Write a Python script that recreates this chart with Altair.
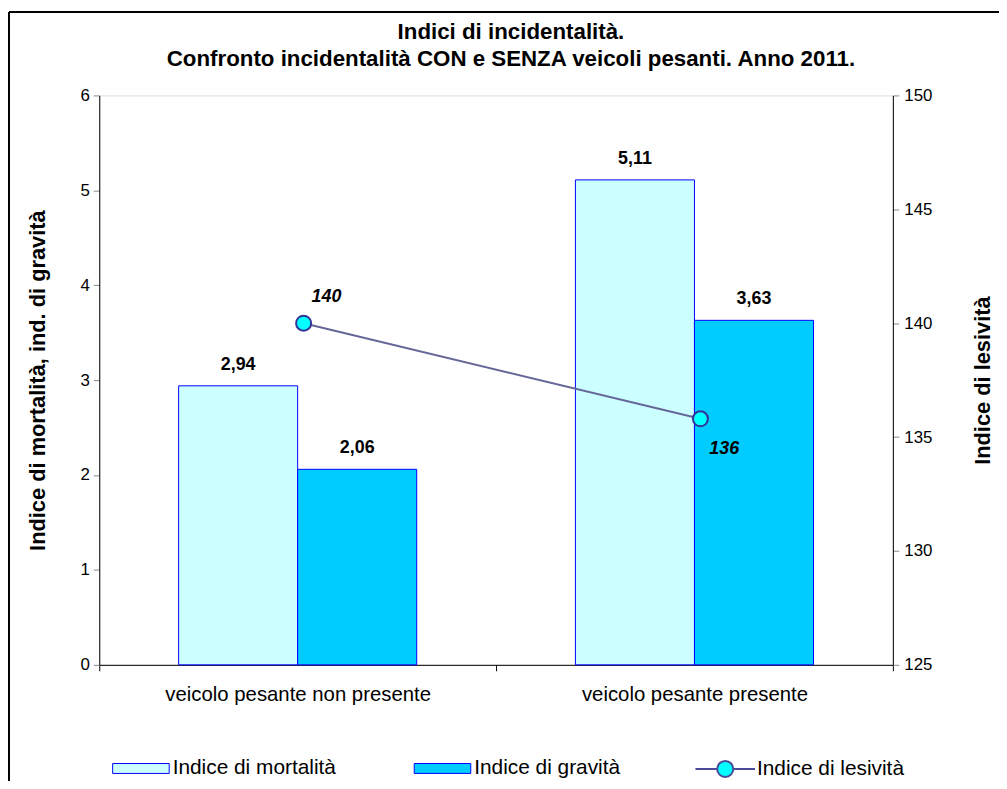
import altair as alt
import pandas as pd

title_lines = ["Indici di incidentalità.",
               "Confronto incidentalità CON e SENZA veicoli pesanti. Anno 2011."]
categories = ["veicolo pesante non presente", "veicolo pesante presente"]
series = ["Indice di mortalità", "Indice di gravità"]
mortalita = [2.94, 5.11]
gravita = [2.06, 3.63]
line_series = "Indice di lesività"
lesivita = [140.0, 135.8]
lesivita_labels = ["140", "136"]
label_pos = ["above", "below"]

FONT = "Liberation Sans"

rows = []
for i, c in enumerate(categories):
    for s, vals in zip(series, [mortalita, gravita]):
        rows.append({"cat": c, "serie": s, "val": vals[i],
                     "lab": f"{vals[i]:.2f}".replace(".", ",")})
bars_df = pd.DataFrame(rows)
line_df = pd.DataFrame({"cat": categories, "val": lesivita, "lab": lesivita_labels,
                        "serie": [line_series] * len(categories), "pos": label_pos})

x_enc = alt.X("cat:N", sort=categories,
              scale=alt.Scale(paddingInner=0, paddingOuter=0),
              axis=alt.Axis(title=None, tickBand="extent", labelFontSize=20.5, labelLimit=500,
                            labelPadding=14, labelAngle=0, domainColor="black", grid=False,
                            tickColor="black", tickSize=6))
xoff = alt.XOffset("serie:N", sort=series,
                   scale=alt.Scale(domain=series, paddingOuter=0.6667, paddingInner=0))
y_left = alt.Y("val:Q", scale=alt.Scale(domain=[0, 6], nice=False, zero=True),
               axis=alt.Axis(values=[0, 1, 2, 3, 4, 5, 6], title="Indice di mortalità, ind. di gravità",
                             titleFontSize=22, titleFontWeight="bold", titleAngle=270,
                             titleX=-62, titleY=287, titleAlign="center", titleBaseline="middle",
                             labelFontSize=17, labelPadding=4, tickSize=6, orient="left",
                             grid=False, domainColor="black"))
y_right = alt.Y("val:Q", scale=alt.Scale(domain=[125, 150], nice=False, zero=False),
                axis=alt.Axis(values=[125, 130, 135, 140, 145, 150], title="Indice di lesività",
                              titleFontSize=22, titleFontWeight="bold", titleAngle=270,
                              titleX=90, titleY=287, titleAlign="center", titleBaseline="middle",
                              labelFontSize=17, labelPadding=5, tickSize=6, orient="right",
                              grid=False, domainColor="black"))

rect_path = "M-1,-0.175L1,-0.175L1,0.175L-1,0.175Z"
bars = alt.Chart(bars_df).mark_bar(stroke="#0000FF", strokeWidth=1).encode(
    x=x_enc, xOffset=xoff, y=y_left,
    color=alt.Color("serie:N", sort=series,
                    scale=alt.Scale(domain=series, range=["#CCFFFF", "#00CCFF"]),
                    legend=alt.Legend(orient="none", legendX=13, legendY=649.5,
                                      direction="horizontal", title=None,
                                      symbolType=rect_path, symbolSize=3249,
                                      symbolStrokeColor="#0000FF", symbolStrokeWidth=1,
                                      symbolOpacity=1, labelLimit=400,
                                      labelFontSize=21, labelFont=FONT, labelColor="black",
                                      labelOffset=3, columnPadding=76, padding=0)))
bar_text = alt.Chart(bars_df).mark_text(fontSize=18, fontWeight="bold", font=FONT,
                                        baseline="alphabetic", dy=-16, color="black").encode(
    x=x_enc, xOffset=xoff, y=y_left, text="lab:N")
left = alt.layer(bars, bar_text)

PX = 6
line = alt.Chart(line_df).mark_line(color="#666699", strokeWidth=2, xOffset=PX).encode(
    x=x_enc, y=y_right)
line_sym = "M-1,0L-0.27,0M0.27,0L1,0M0.27,0A0.27,0.27,0,1,1,-0.27,0A0.27,0.27,0,1,1,0.27,0Z"
points = alt.Chart(line_df).mark_point(filled=True, shape="circle", size=230, stroke="#333399",
                                       strokeWidth=2, opacity=1, xOffset=PX).encode(
    x=x_enc, y=y_right,
    fill=alt.Fill("serie:N", scale=alt.Scale(domain=[line_series], range=["#00FFFF"]),
                  legend=alt.Legend(orient="none", legendX=600, legendY=648, title=None,
                                    symbolType=line_sym, symbolSize=3600,
                                    symbolStrokeColor="#4a4a99", symbolStrokeWidth=2,
                                    symbolOpacity=1, labelLimit=400,
                                    labelFontSize=21, labelFont=FONT, labelColor="black",
                                    labelOffset=1, padding=0)))
lab_above = alt.Chart(line_df).transform_filter(alt.datum.pos == "above").mark_text(
    fontSize=18, fontWeight="bold", fontStyle="italic", font=FONT, xOffset=PX,
    dx=23, dy=-26, color="black"
).encode(x=x_enc, y=y_right, text="lab:N")
lab_below = alt.Chart(line_df).transform_filter(alt.datum.pos == "below").mark_text(
    fontSize=18, fontWeight="bold", fontStyle="italic", font=FONT, xOffset=PX,
    dx=24, dy=30, color="black"
).encode(x=x_enc, y=y_right, text="lab:N")
right = alt.layer(line, points, lab_above, lab_below)

title_df = pd.DataFrame({"t": title_lines})
t1 = alt.Chart(title_df).transform_filter(alt.datum.t == title_lines[0]).mark_text(
    fontSize=22.5, fontWeight="bold", font=FONT, color="black", baseline="middle", align="center"
).encode(text="t:N", x=alt.value(415), y=alt.value(-64))
t2 = alt.Chart(title_df).transform_filter(alt.datum.t == title_lines[1]).mark_text(
    fontSize=22.5, fontWeight="bold", font=FONT, color="black", baseline="middle", align="center"
).encode(text="t:N", x=alt.value(415), y=alt.value(-37))

frame_df = pd.DataFrame({"b": [0]})
left_edge = alt.Chart(frame_df).mark_rule(color="black", strokeWidth=2, clip=False).encode(
    x=alt.value(-91), y=alt.value(-84), y2=alt.value(700))
top_edge = alt.Chart(frame_df).mark_rule(color="black", strokeWidth=2, clip=False).encode(
    x=alt.value(-91), x2=alt.value(920), y=alt.value(-84))

chart = alt.layer(left, right, t1, t2, left_edge, top_edge).resolve_scale(
    y="independent").properties(
    width=800, height=574,
    autosize=alt.AutoSizeParams(type="none"),
    padding={"left": 92, "top": 85, "right": 107, "bottom": 114},
).configure_view(stroke="black", strokeWidth=1.5).configure_axis(
    labelFont=FONT, titleFont=FONT, labelColor="black", titleColor="black",
    domainColor="black", tickColor="black", grid=False, domainWidth=1.5, tickWidth=1
).configure(background="white")

chart.save("out.html", embed_options={"renderer": "svg", "actions": False})
